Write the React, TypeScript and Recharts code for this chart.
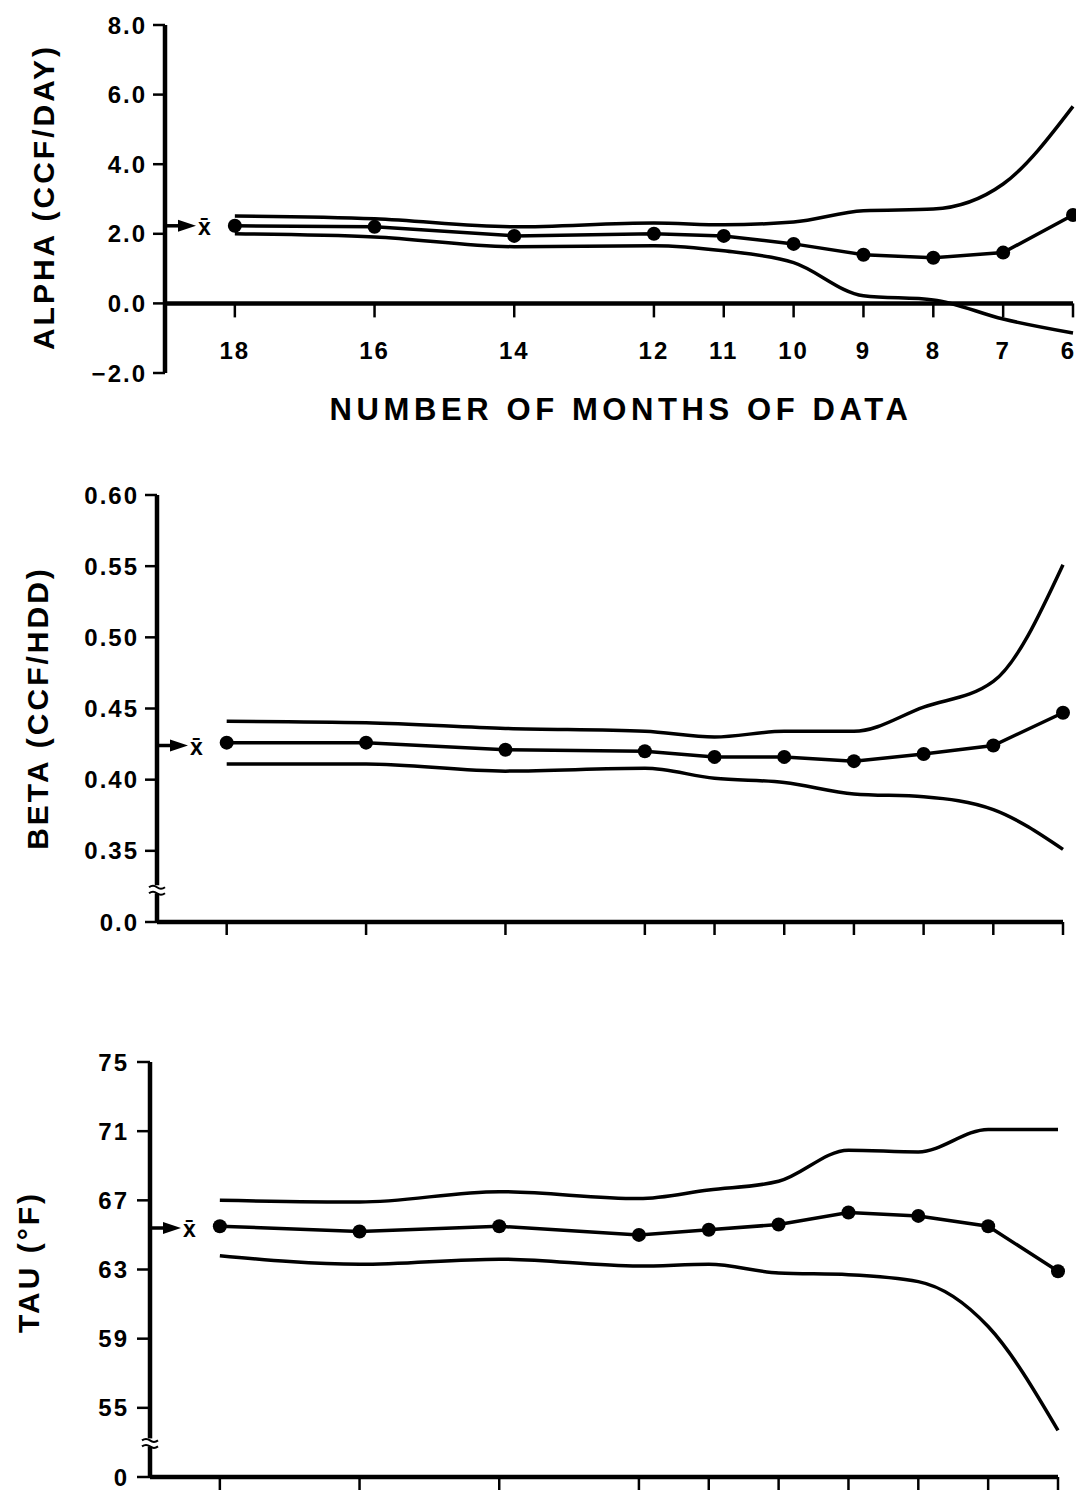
import React from "react";
import { LineChart, Line, XAxis, YAxis, ReferenceLine, ReferenceDot } from "recharts";

const FONT = '"Liberation Sans", Arial, Helvetica, sans-serif';
const INK = "#000";

// months of data, the axis runs from 18 down to 6
const months = [18, 16, 14, 12, 11, 10, 9, 8, 7, 6];

const alphaUpper = [2.51, 2.43, 2.2, 2.31, 2.26, 2.34, 2.66, 2.71, 3.43, 5.66];
const alphaMean = [2.23, 2.2, 1.94, 2.0, 1.94, 1.71, 1.4, 1.31, 1.46, 2.54];
const alphaLower = [2.0, 1.91, 1.63, 1.66, 1.51, 1.17, 0.22, 0.1, -0.45, -0.85];

const betaUpper = [0.441, 0.44, 0.436, 0.434, 0.43, 0.434, 0.434, 0.451, 0.469, 0.551];
const betaMean = [0.426, 0.426, 0.421, 0.42, 0.416, 0.416, 0.413, 0.418, 0.424, 0.447];
const betaLower = [0.411, 0.411, 0.406, 0.408, 0.401, 0.398, 0.39, 0.388, 0.379, 0.351];

const tauUpper = [67.0, 66.9, 67.5, 67.1, 67.6, 68.1, 69.9, 69.8, 71.1, 71.1];
const tauMean = [65.5, 65.2, 65.5, 65.0, 65.3, 65.6, 66.3, 66.1, 65.5, 62.9];
const tauLower = [63.8, 63.3, 63.6, 63.2, 63.3, 62.8, 62.7, 62.3, 59.7, 53.7];

// overall means marked with the x-bar arrow
const alphaXbar = 2.23;
const betaXbar = 0.424;
const tauXbar = 65.4;

const alphaTicks = [-2, 0, 2, 4, 6, 8];
// broken axes: the lowest tick is labelled as zero
const betaTicks = [0.3, 0.35, 0.4, 0.45, 0.5, 0.55, 0.6];
const tauTicks = [51, 55, 59, 63, 67, 71, 75];
const betaBreak = 0.323;
const tauBreak = 53;

const toRows = (upper: number[], mean: number[], lower: number[]) =>
  months.map((m, i) => ({ month: m, upper: upper[i], mean: mean[i], lower: lower[i] }));

const alphaRows = toRows(alphaUpper, alphaMean, alphaLower);
const betaRows = toRows(betaUpper, betaMean, betaLower);
const tauRows = toRows(tauUpper, tauMean, tauLower);

const tickStyle = {
  fill: INK,
  fontFamily: FONT,
  fontSize: 24,
  fontWeight: "bold",
  letterSpacing: 2,
};

const titleProps = {
  fill: INK,
  fontFamily: FONT,
  fontSize: 30,
  fontWeight: "bold",
  letterSpacing: 3,
  textAnchor: "middle" as const,
  dominantBaseline: "central" as const,
};

const AXIS = { stroke: INK, strokeWidth: 4.5 };
const TICK = { stroke: INK, strokeWidth: 2.5 };

// alpha panel layout (x axis crosses at 0, not at the bottom)
const A_TOP = 25;
const A_PLOT_H = 348;
const A_ZERO_Y = A_TOP + A_PLOT_H * 0.8;

function XBarArrow(props: any) {
  const { cx, cy } = props;
  return (
    <g>
      <line x1={cx} x2={cx + 18} y1={cy} y2={cy} stroke={INK} strokeWidth={3.5} />
      <polygon points={`${cx + 13},${cy - 6} ${cx + 31},${cy} ${cx + 13},${cy + 6}`} fill={INK} />
      <text x={cx + 33} y={cy + 1} dominantBaseline="central" fontFamily={FONT} fontWeight="bold" fontSize={23} fill={INK}>
        x̄
      </text>
    </g>
  );
}

function AxisBreak(props: any) {
  const { cx, cy } = props;
  return (
    <g>
      <rect x={cx - 9} y={cy - 4} width={18} height={8} fill="#fff" />
      <path d={`M${cx - 8},${cy - 2} q4,-3 8,0 t8,0`} stroke={INK} strokeWidth={2} fill="none" />
      <path d={`M${cx - 8},${cy + 4} q4,-3 8,0 t8,0`} stroke={INK} strokeWidth={2} fill="none" />
    </g>
  );
}

function AlphaTick(props: any) {
  const { x, payload, index } = props;
  const last = index === months.length - 1;
  return (
    <g>
      <line x1={x} x2={x} y1={A_ZERO_Y} y2={A_ZERO_Y + 14} stroke={INK} strokeWidth={2.5} />
      <text
        x={last ? 1074 : x}
        y={350}
        textAnchor={last ? "end" : "middle"}
        dominantBaseline="central"
        {...tickStyle}
        letterSpacing={last ? 0 : 2}
      >
        {payload.value}
      </text>
    </g>
  );
}

const title = (text: string, x: number, y: number) => () =>
  (
    <text {...titleProps} transform={`translate(${x},${y}) rotate(-90)`}>
      {text}
    </text>
  );

const bandLine = (key: string) => (
  <Line
    key={key}
    dataKey={key}
    type="monotone"
    stroke={INK}
    strokeWidth={3.5}
    dot={false}
    activeDot={false}
    isAnimationActive={false}
  />
);

const meanLine = (
  <Line
    dataKey="mean"
    type="linear"
    stroke={INK}
    strokeWidth={3.5}
    dot={{ r: 7, fill: INK, stroke: INK, strokeWidth: 0 }}
    activeDot={false}
    isAnimationActive={false}
  />
);

export default function App() {
  return (
    <div style={{ position: "absolute", left: 0, top: 0, width: 1076, height: 1498, background: "#fff" }}>
      {/* ALPHA */}
      <div style={{ position: "absolute", left: 0, top: 0 }}>
        <LineChart width={1076} height={440} data={alphaRows} margin={{ top: A_TOP, right: 3, left: 105, bottom: 37 }}>
          <XAxis
            dataKey="month"
            type="number"
            domain={[6, 19]}
            reversed
            ticks={months}
            interval={0}
            height={30}
            axisLine={false}
            tickLine={false}
            tick={AlphaTick}
            label={() => (
              <text {...titleProps} fontSize={31} letterSpacing={4.6} x={621} y={409}>
                NUMBER OF MONTHS OF DATA
              </text>
            )}
          />
          <YAxis
            type="number"
            domain={[-2, 8]}
            ticks={alphaTicks}
            interval={0}
            width={60}
            axisLine={AXIS}
            tickLine={TICK}
            tickSize={12}
            tickMargin={6}
            tick={tickStyle}
            tickFormatter={(v: number) => (v < 0 ? "\u2212" + Math.abs(v).toFixed(1) : v.toFixed(1))}
            label={title("ALPHA (CCF/DAY)", 43, 197)}
          />
          <ReferenceLine y={0} stroke={INK} strokeWidth={4.5} />
          {bandLine("upper")}
          {bandLine("lower")}
          {meanLine}
          <ReferenceDot x={19} y={alphaXbar} r={0} shape={XBarArrow} />
        </LineChart>
      </div>

      {/* BETA */}
      <div style={{ position: "absolute", left: 0, top: 470 }}>
        <LineChart width={1076} height={480} data={betaRows} margin={{ top: 25, right: 13, left: 97, bottom: 3 }}>
          <XAxis
            dataKey="month"
            type="number"
            domain={[6, 19]}
            reversed
            ticks={months}
            interval={0}
            height={25}
            axisLine={AXIS}
            tickLine={TICK}
            tickSize={13}
            tickFormatter={() => ""}
          />
          <YAxis
            type="number"
            domain={[0.3, 0.6]}
            ticks={betaTicks}
            interval={0}
            width={60}
            axisLine={AXIS}
            tickLine={TICK}
            tickSize={12}
            tickMargin={6}
            tick={tickStyle}
            tickFormatter={(v: number) => (Math.abs(v - betaTicks[0]) < 1e-9 ? "0.0" : v.toFixed(2))}
            label={title("BETA (CCF/HDD)", 37, 238)}
          />
          {bandLine("upper")}
          {bandLine("lower")}
          {meanLine}
          <ReferenceDot x={19} y={betaXbar} r={0} shape={XBarArrow} />
          <ReferenceDot x={19} y={betaBreak} r={0} shape={AxisBreak} />
        </LineChart>
      </div>

      {/* TAU */}
      <div style={{ position: "absolute", left: 0, top: 1035 }}>
        <LineChart width={1076} height={463} data={tauRows} margin={{ top: 27, right: 18, left: 90, bottom: 3 }}>
          <XAxis
            dataKey="month"
            type="number"
            domain={[6, 19]}
            reversed
            ticks={months}
            interval={0}
            height={18}
            axisLine={AXIS}
            tickLine={TICK}
            tickSize={13}
            tickFormatter={() => ""}
          />
          <YAxis
            type="number"
            domain={[51, 75]}
            ticks={tauTicks}
            interval={0}
            width={60}
            axisLine={AXIS}
            tickLine={TICK}
            tickSize={13}
            tickMargin={8}
            tick={tickStyle}
            tickFormatter={(v: number) => (v === tauTicks[0] ? "0" : String(v))}
            label={title("TAU (\u00B0F)", 28, 227)}
          />
          {bandLine("upper")}
          {bandLine("lower")}
          {meanLine}
          <ReferenceDot x={19} y={tauXbar} r={0} shape={XBarArrow} />
          <ReferenceDot x={19} y={tauBreak} r={0} shape={AxisBreak} />
        </LineChart>
      </div>
    </div>
  );
}
